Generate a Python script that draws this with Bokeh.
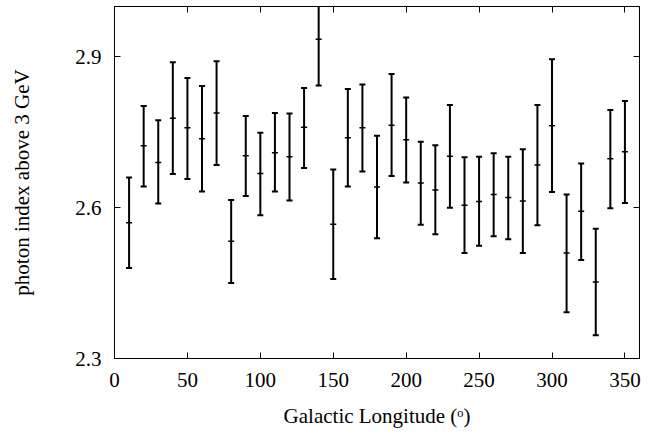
from bokeh.plotting import figure
from bokeh.models import (ColumnDataSource, Whisker, TeeHead, LinearAxis, FixedTicker, Range1d,
                          CustomJSTickFormatter)
from bokeh.embed import file_html
from bokeh.resources import INLINE

longitude = [10, 20, 30, 40, 50, 60, 70, 80, 90, 100, 110, 120, 130, 140, 150, 160, 170, 180,
             190, 200, 210, 220, 230, 240, 250, 260, 270, 280, 290, 300, 310, 320, 330, 340, 350]
index = [2.570, 2.723, 2.690, 2.778, 2.759, 2.737, 2.788, 2.533, 2.703, 2.668, 2.709, 2.701,
         2.760, 2.935, 2.567, 2.739, 2.759, 2.641, 2.764, 2.735, 2.649, 2.635, 2.702, 2.605,
         2.612, 2.626, 2.620, 2.613, 2.685, 2.763, 2.510, 2.593, 2.452, 2.697, 2.711]
upper = [2.660, 2.802, 2.774, 2.889, 2.858, 2.842, 2.891, 2.615, 2.782, 2.749, 2.788, 2.787,
         2.838, 3.027, 2.676, 2.836, 2.845, 2.743, 2.866, 2.819, 2.731, 2.724, 2.804, 2.700,
         2.701, 2.708, 2.701, 2.716, 2.804, 2.895, 2.626, 2.688, 2.558, 2.794, 2.812]
lower = [2.480, 2.642, 2.608, 2.667, 2.657, 2.632, 2.685, 2.450, 2.623, 2.585, 2.632, 2.614,
         2.679, 2.843, 2.458, 2.642, 2.672, 2.539, 2.663, 2.650, 2.566, 2.547, 2.600, 2.510,
         2.524, 2.543, 2.537, 2.510, 2.565, 2.631, 2.392, 2.496, 2.346, 2.599, 2.609]

x_ticks = [0, 50, 100, 150, 200, 250, 300, 350]
y_ticks = [2.3, 2.6, 2.9]

FONT = "Liberation Serif"

src = ColumnDataSource(dict(x=longitude, y=index, upper=upper, lower=lower))

p = figure(width=641, height=432, output_backend="svg", toolbar_location=None,
           x_range=Range1d(0, 360), y_range=Range1d(2.3, 3.0),
           min_border_left=114, min_border_right=2, min_border_top=6, min_border_bottom=74)

p.xgrid.visible = False
p.ygrid.visible = False
p.outline_line_color = "black"
p.outline_line_width = 1
p.background_fill_color = "white"

w = Whisker(base="x", upper="upper", lower="lower", source=src, dimension="height",
            line_color="black", line_width=2,
            upper_head=TeeHead(size=6, line_color="black", line_width=2),
            lower_head=TeeHead(size=6, line_color="black", line_width=2))
p.add_layout(w)
p.scatter("x", "y", source=src, marker="dash", size=6, line_color="black", line_width=1.5)

def style(ax, ticks, labels=True):
    ax.ticker = FixedTicker(ticks=ticks)
    ax.axis_line_color = "black"
    ax.major_tick_line_color = "black"
    ax.major_tick_in = 6
    ax.major_tick_out = 0
    ax.minor_tick_line_color = None
    ax.major_label_text_font = FONT
    ax.major_label_text_color = "black"
    ax.major_label_text_font_size = "21px"
    if not labels:
        ax.formatter = CustomJSTickFormatter(code="return ''")
        ax.major_label_standoff = 0

xa = p.xaxis[0]
style(xa, x_ticks)
xa.major_label_standoff = 14
xa.axis_label = "Galactic Longitude (ᵒ)"
xa.axis_label_text_font = FONT
xa.axis_label_text_color = "black"
xa.axis_label_text_font_style = "normal"
xa.axis_label_text_font_size = "21px"
xa.axis_label_standoff = 14

ya = p.yaxis[0]
style(ya, y_ticks)
ya.major_label_standoff = 13
ya.axis_label = "photon index above 3 GeV"
ya.axis_label_text_font = FONT
ya.axis_label_text_color = "black"
ya.axis_label_text_font_style = "normal"
ya.axis_label_text_font_size = "21px"
ya.axis_label_standoff = 38

top = LinearAxis()
style(top, x_ticks, labels=False)
p.add_layout(top, "above")
right = LinearAxis()
style(right, y_ticks, labels=False)
p.add_layout(right, "right")

open("out.html", "w").write(file_html(p, INLINE))
